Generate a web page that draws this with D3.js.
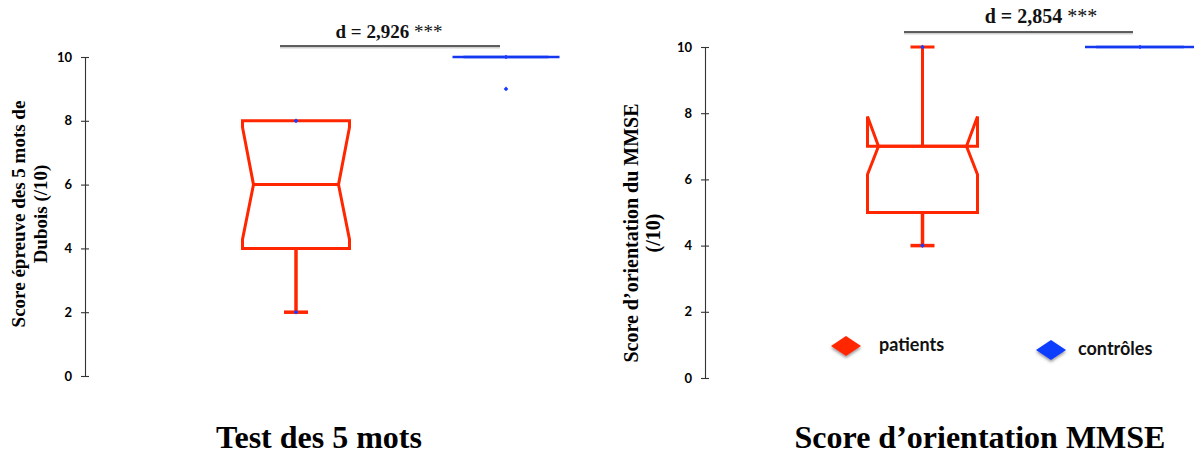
<!DOCTYPE html>
<html>
<head>
<meta charset="utf-8">
<script src="https://cdn.jsdelivr.net/npm/d3@7"></script>
<style>
  html, body { margin: 0; padding: 0; background: #fff; }
  svg { display: block; }
</style>
</head>
<body>
<svg id="chart" width="1194" height="455"></svg>
<script>
// ---------------- DATA ----------------
const categories = ["patients", "contrôles"];
const tickValues = [0, 2, 4, 6, 8, 10];
const yDomain = [0, 10];

// Test des 5 mots (Dubois)
const motsMin      = [2, 10];
const motsQ1       = [4, 10];
const motsMedian   = [6, 10];
const motsQ3       = [8, 10];
const motsMax      = [8, 10];
const motsNotchLo  = [4.28, 10];
const motsNotchHi  = [7.8, 10];
const motsPoints   = [[8, 2], [10, 9]];
const motsEffect   = "d = 2,926";

// Score d'orientation MMSE
const mmseMin      = [4, 10];
const mmseQ1       = [5, 10];
const mmseMedian   = [7, 10];
const mmseQ3       = [7, 10];
const mmseMax      = [10, 10];
const mmseNotchLo  = [6.15, 10];
const mmseNotchHi  = [7.9, 10];
const mmsePoints   = [[10, 4], [10]];
const mmseEffect   = "d = 2,854";

const stars = "***";
const panelTitles = ["Test des 5 mots", "Score d’orientation MMSE"];
const yTitles = [["Score épreuve des 5 mots de", "Dubois (/10)"], ["Score d’orientation du MMSE", "(/10)"]];
const legendLabels = ["patients", "contrôles"];

// ---------------- STYLE / LAYOUT ----------------
const colors = ["#ff2600", "#1438f0"];
const legendColors = ["#ff2600", "#0a3cff"];
const strokeW = [3, 2.4];

const svg = d3.select("#chart");
const defs = svg.append("defs");
defs.append("filter").attr("id", "shadow").attr("x", "-50%").attr("y", "-50%").attr("width", "200%").attr("height", "200%")
  .append("feDropShadow").attr("dx", 0).attr("dy", 2).attr("stdDeviation", 1.4)
  .attr("flood-color", "#444").attr("flood-opacity", 0.55);

const panels = [
  {
    stats: { min: motsMin, q1: motsQ1, median: motsMedian, q3: motsQ3, max: motsMax, lo: motsNotchLo, hi: motsNotchHi },
    points: motsPoints, effect: motsEffect, title: panelTitles[0], yTitle: yTitles[0],
    yRange: [376, 57], axisX: 85, xRange: [296, 506], boxHalf: 53.5, inset: 11, capHalf: 12,
    sigX: [280, 500], sigY: 46, sigTextX: 389, sigTextY: 38, sigFont: 19,
    yTitleX: [25, 47], yTitleY: 214, yTitleFont: 19, titleX: 319, titleY: 448
  },
  {
    stats: { min: mmseMin, q1: mmseQ1, median: mmseMedian, q3: mmseQ3, max: mmseMax, lo: mmseNotchLo, hi: mmseNotchHi },
    points: mmsePoints, effect: mmseEffect, title: panelTitles[1], yTitle: yTitles[1],
    yRange: [378, 47], axisX: 705, xRange: [922.5, 1140], boxHalf: 55, inset: 11, capHalf: 12,
    sigX: [904, 1133], sigY: 32, sigTextX: 1041, sigTextY: 23, sigFont: 20,
    yTitleX: [638, 660], yTitleY: 233, yTitleFont: 20, titleX: 980, titleY: 448
  }
];

panels.forEach(p => {
  const y = d3.scaleLinear().domain(yDomain).range(p.yRange);
  const x = d3.scalePoint().domain(categories).range(p.xRange).padding(0);
  const g = svg.append("g");

  // axis
  const axis = d3.axisLeft(y).tickValues(tickValues).tickSizeInner(4).tickSizeOuter(0).tickPadding(9);
  const ag = g.append("g").attr("transform", `translate(${p.axisX},0)`).call(axis);
  ag.select(".domain").attr("stroke", "#333").attr("stroke-width", 1.1);
  ag.selectAll(".tick line").attr("x1", 4).attr("x2", -4).attr("stroke", "#333").attr("stroke-width", 1.1);
  ag.selectAll(".tick text")
    .attr("font-family", "Lato, 'Open Sans', sans-serif").attr("font-weight", 700)
    .attr("font-size", 13).attr("fill", "#000");

  // boxes
  categories.forEach((c, i) => {
    const s = {};
    for (const k in p.stats) s[k] = p.stats[k][i];
    const cx = x(c), L = cx - p.boxHalf, R = cx + p.boxHalf, n = p.inset;
    const col = colors[i], sw = strokeW[i];
    const boxPts = [
      [L, y(s.q1)], [L, y(s.lo)], [L + n, y(s.median)], [L, y(s.hi)], [L, y(s.q3)],
      [R, y(s.q3)], [R, y(s.hi)], [R - n, y(s.median)], [R, y(s.lo)], [R, y(s.q1)]
    ];
    const bg = g.append("g");
    if (s.q3 !== s.max) {
      bg.append("line").attr("x1", cx).attr("x2", cx).attr("y1", y(s.q3)).attr("y2", y(s.max))
        .attr("stroke", col).attr("stroke-width", sw);
      bg.append("line").attr("x1", cx - p.capHalf).attr("x2", cx + p.capHalf).attr("y1", y(s.max)).attr("y2", y(s.max))
        .attr("stroke", col).attr("stroke-width", sw);
    }
    if (s.q1 !== s.min) {
      bg.append("line").attr("x1", cx).attr("x2", cx).attr("y1", y(s.q1)).attr("y2", y(s.min))
        .attr("stroke", col).attr("stroke-width", sw + 0.5);
      bg.append("line").attr("x1", cx - p.capHalf).attr("x2", cx + p.capHalf).attr("y1", y(s.min)).attr("y2", y(s.min))
        .attr("stroke", col).attr("stroke-width", sw + 0.5);
    }
    bg.append("path").attr("d", d3.line()(boxPts) + "Z")
      .attr("fill", "none").attr("stroke", col).attr("stroke-width", sw).attr("stroke-linejoin", "miter");
    bg.append("line").attr("x1", L + n).attr("x2", R - n).attr("y1", y(s.median)).attr("y2", y(s.median))
      .attr("stroke", col).attr("stroke-width", sw);
  });

  // data points (blue markers)
  categories.forEach((c, i) => {
    g.selectAll(null).data(p.points[i]).enter().append("path")
      .attr("d", d3.symbol(d3.symbolDiamond2, 14)())
      .attr("transform", v => `translate(${x(c)},${y(v)})`)
      .attr("fill", "#1a3cff");
  });

  // significance bar (with soft shadow)
  g.append("line").attr("x1", p.sigX[0]).attr("x2", p.sigX[1]).attr("y1", p.sigY + 1.6).attr("y2", p.sigY + 1.6)
    .attr("stroke", "#999").attr("stroke-opacity", 0.45).attr("stroke-width", 1.6);
  g.append("line").attr("x1", p.sigX[0]).attr("x2", p.sigX[1]).attr("y1", p.sigY).attr("y2", p.sigY)
    .attr("stroke", "#2a2a2a").attr("stroke-width", 1.5);
  const st = g.append("text").attr("x", p.sigTextX).attr("y", p.sigTextY).attr("text-anchor", "middle")
    .attr("font-family", "'Liberation Serif', 'Times New Roman', serif").attr("font-size", p.sigFont)
    .attr("font-weight", 700).attr("fill", "#111");
  st.append("tspan").text(p.effect + " ");
  st.append("tspan").attr("font-weight", 400).text(stars);

  // y title
  p.yTitle.forEach((t, k) => {
    g.append("text").attr("transform", `translate(${p.yTitleX[k]},${p.yTitleY}) rotate(-90)`)
      .attr("text-anchor", "middle")
      .attr("font-family", "'Liberation Serif', 'Times New Roman', serif").attr("font-weight", 700)
      .attr("font-size", p.yTitleFont).attr("fill", "#000").text(t);
  });

  // panel title
  g.append("text").attr("x", p.titleX).attr("y", p.titleY).attr("text-anchor", "middle")
    .attr("font-family", "'Liberation Serif', 'Times New Roman', serif").attr("font-weight", 700)
    .attr("font-size", 32).attr("fill", "#000").text(p.title);
});

// legend
const legendPos = [[846, 346, 879, 351], [1051, 350, 1078, 355]];
legendLabels.forEach((lab, i) => {
  const [dx, dy, tx, ty] = legendPos[i];
  svg.append("path")
    .attr("d", `M${dx - 15},${dy} L${dx},${dy - 10} L${dx + 15},${dy} L${dx},${dy + 10} Z`)
    .attr("fill", legendColors[i]).attr("filter", "url(#shadow)");
  svg.append("text").attr("x", tx).attr("y", ty)
    .attr("font-family", "Lato, 'Open Sans', sans-serif").attr("font-weight", 700)
    .attr("font-size", 18).attr("fill", "#111").text(lab);
});
</script>
</body>
</html>
